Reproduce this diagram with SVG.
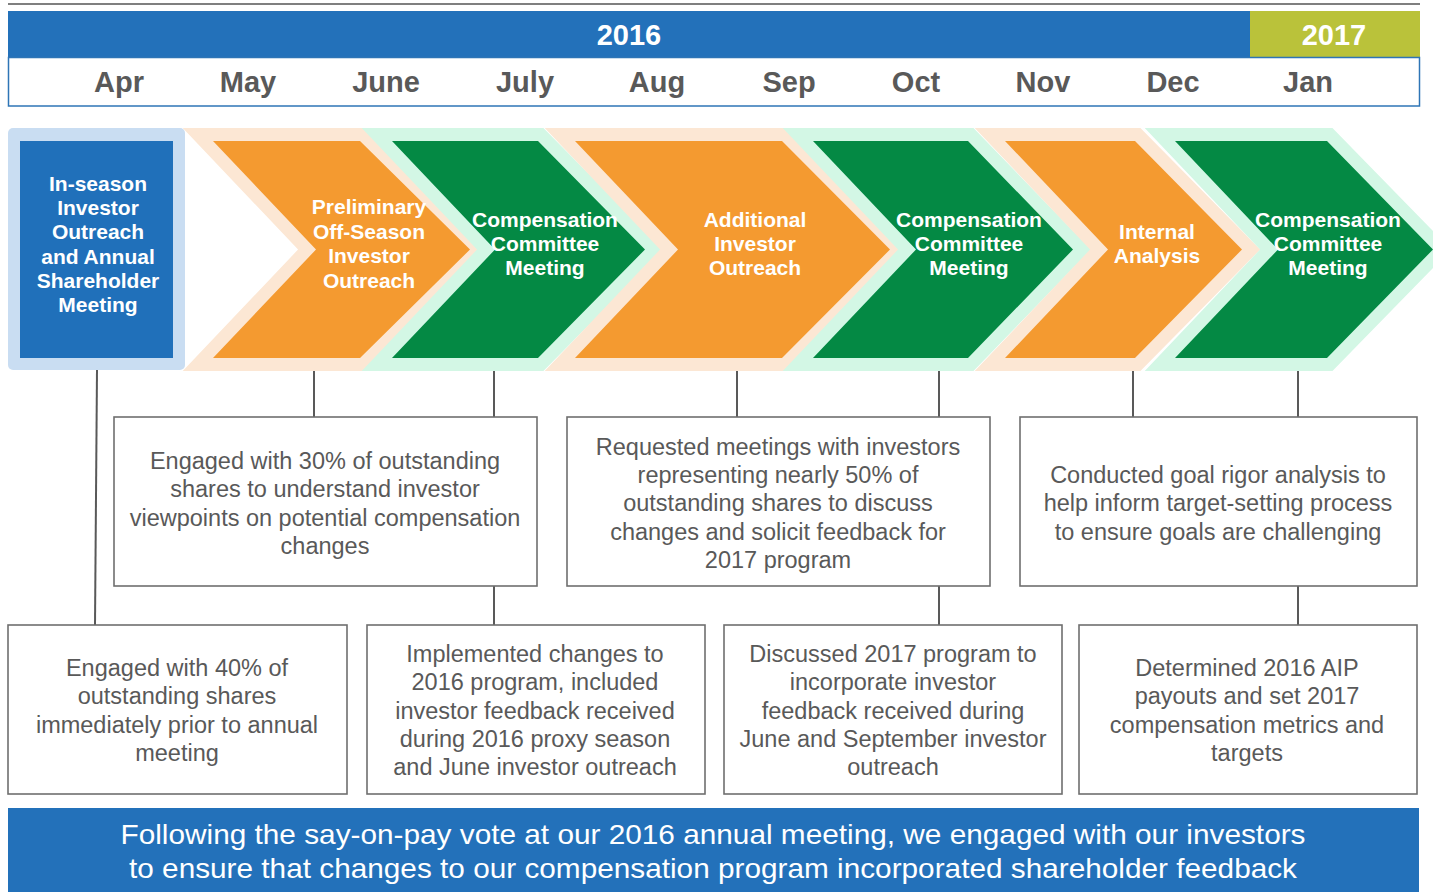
<svg xmlns="http://www.w3.org/2000/svg" width="1433" height="892" viewBox="0 0 1433 892">
<style>
.month{font-family:"Liberation Sans",Arial,sans-serif;font-weight:bold;font-size:29px;fill:#595959;text-anchor:middle}
.year{font-family:"Liberation Sans",Arial,sans-serif;font-weight:bold;font-size:29px;fill:#ffffff;text-anchor:middle}
.chev{font-family:"Liberation Sans",Arial,sans-serif;font-weight:bold;font-size:21px;fill:#ffffff;text-anchor:middle}
.box{fill:#ffffff;stroke:#6f6f6f;stroke-width:1.6}
.btxt{font-family:"Liberation Sans",Arial,sans-serif;font-size:23.5px;fill:#595959;text-anchor:middle}
.foot{font-family:"Liberation Sans",Arial,sans-serif;font-size:28px;fill:#ffffff;text-anchor:middle}
.org{fill:#F49A30;stroke:#FCE7D4;stroke-width:26;stroke-linejoin:miter;stroke-miterlimit:4;paint-order:stroke}
.grn{fill:#048944;stroke:#D3F7E5;stroke-width:26;stroke-linejoin:miter;stroke-miterlimit:4;paint-order:stroke}
.conn{stroke:#595959;stroke-width:2;fill:none}
</style>
<rect width="1433" height="892" fill="#ffffff"/>
<g id="header">
<line x1="8" y1="4" x2="1420" y2="4" stroke="#7f7f7f" stroke-width="2"/>
<rect x="8" y="11" width="1242" height="46" fill="#2371BA"/>
<rect x="1250" y="11" width="170" height="46" fill="#BAC23A"/>
<text class="year" x="629" y="45">2016</text>
<text class="year" x="1334" y="45">2017</text>
<rect x="8.5" y="57.5" width="1411" height="48.5" fill="#ffffff" stroke="#2E75B6" stroke-width="1.5"/>
<text class="month" x="119" y="92">Apr</text>
<text class="month" x="248" y="92">May</text>
<text class="month" x="386" y="92">June</text>
<text class="month" x="525" y="92">July</text>
<text class="month" x="657" y="92">Aug</text>
<text class="month" x="789" y="92">Sep</text>
<text class="month" x="916" y="92">Oct</text>
<text class="month" x="1043" y="92">Nov</text>
<text class="month" x="1173" y="92">Dec</text>
<text class="month" x="1308" y="92">Jan</text>
</g>
<g id="connectors">
<line class="conn" x1="97" y1="370" x2="95" y2="625"/>
<line class="conn" x1="314" y1="370" x2="314" y2="417"/>
<line class="conn" x1="494" y1="370" x2="494" y2="417"/>
<line class="conn" x1="494" y1="586" x2="494" y2="625"/>
<line class="conn" x1="737" y1="370" x2="737" y2="417"/>
<line class="conn" x1="939" y1="370" x2="939" y2="417"/>
<line class="conn" x1="939" y1="586" x2="939" y2="625"/>
<line class="conn" x1="1133" y1="370" x2="1133" y2="417"/>
<line class="conn" x1="1298" y1="370" x2="1298" y2="417"/>
<line class="conn" x1="1298" y1="586" x2="1298" y2="625"/>
</g>
<g id="step-preliminary">
<polygon class="org" points="213,141 360,141 470,249.5 360,358 213,358 316,249.5"/>
<text class="chev" x="369" y="214">Preliminary</text>
<text class="chev" x="369" y="239">Off-Season</text>
<text class="chev" x="369" y="263">Investor</text>
<text class="chev" x="369" y="288">Outreach</text>
</g>
<g id="step-inseason">
<rect x="8" y="128" width="177" height="242" rx="5" fill="#C9DDF2"/>
<rect x="20" y="141" width="153" height="217" fill="#2070BA"/>
<text class="chev" x="98" y="191">In-season</text>
<text class="chev" x="98" y="215">Investor</text>
<text class="chev" x="98" y="239">Outreach</text>
<text class="chev" x="98" y="264">and Annual</text>
<text class="chev" x="98" y="288">Shareholder</text>
<text class="chev" x="98" y="312">Meeting</text>
</g>
<g id="step-comp1">
<polygon class="grn" points="392,141 538,141 645,249.5 538,358 392,358 495,249.5"/>
<text class="chev" x="545" y="227">Compensation</text>
<text class="chev" x="545" y="251">Committee</text>
<text class="chev" x="545" y="275">Meeting</text>
</g>
<g id="step-additional">
<polygon class="org" points="575,141 782,141 890,249.5 782,358 575,358 678,249.5"/>
<text class="chev" x="755" y="227">Additional</text>
<text class="chev" x="755" y="251">Investor</text>
<text class="chev" x="755" y="275">Outreach</text>
</g>
<g id="step-comp2">
<polygon class="grn" points="813,141 968,141 1073,249.5 968,358 813,358 916,249.5"/>
<text class="chev" x="969" y="227">Compensation</text>
<text class="chev" x="969" y="251">Committee</text>
<text class="chev" x="969" y="275">Meeting</text>
</g>
<g id="step-internal">
<polygon class="org" points="1005,141 1135,141 1242,249.5 1135,358 1005,358 1108,249.5"/>
<text class="chev" x="1157" y="239">Internal</text>
<text class="chev" x="1157" y="263">Analysis</text>
</g>
<g id="step-comp3">
<polygon class="grn" points="1175,141 1327,141 1433,249.5 1327,358 1175,358 1278,249.5"/>
<text class="chev" x="1328" y="227">Compensation</text>
<text class="chev" x="1328" y="251">Committee</text>
<text class="chev" x="1328" y="275">Meeting</text>
</g>
<g id="note-30pct">
<rect class="box" x="114" y="417" width="423" height="169"/>
<text class="btxt" x="325" y="469">Engaged with 30% of outstanding</text>
<text class="btxt" x="325" y="497">shares to understand investor</text>
<text class="btxt" x="325" y="526">viewpoints on potential compensation</text>
<text class="btxt" x="325" y="554">changes</text>
</g>
<g id="note-50pct">
<rect class="box" x="567" y="417" width="423" height="169"/>
<text class="btxt" x="778" y="455">Requested meetings with investors</text>
<text class="btxt" x="778" y="483">representing nearly 50% of</text>
<text class="btxt" x="778" y="511">outstanding shares to discuss</text>
<text class="btxt" x="778" y="540">changes and solicit feedback for</text>
<text class="btxt" x="778" y="568">2017 program</text>
</g>
<g id="note-rigor">
<rect class="box" x="1020" y="417" width="397" height="169"/>
<text class="btxt" x="1218" y="483">Conducted goal rigor analysis to</text>
<text class="btxt" x="1218" y="511">help inform target-setting process</text>
<text class="btxt" x="1218" y="540">to ensure goals are challenging</text>
</g>
<g id="note-40pct">
<rect class="box" x="8" y="625" width="339" height="169"/>
<text class="btxt" x="177" y="676">Engaged with 40% of</text>
<text class="btxt" x="177" y="704">outstanding shares</text>
<text class="btxt" x="177" y="733">immediately prior to annual</text>
<text class="btxt" x="177" y="761">meeting</text>
</g>
<g id="note-implemented">
<rect class="box" x="367" y="625" width="338" height="169"/>
<text class="btxt" x="535" y="662">Implemented changes to</text>
<text class="btxt" x="535" y="690">2016 program, included</text>
<text class="btxt" x="535" y="719">investor feedback received</text>
<text class="btxt" x="535" y="747">during 2016 proxy season</text>
<text class="btxt" x="535" y="775">and June investor outreach</text>
</g>
<g id="note-discussed">
<rect class="box" x="724" y="625" width="338" height="169"/>
<text class="btxt" x="893" y="662">Discussed 2017 program to</text>
<text class="btxt" x="893" y="690">incorporate investor</text>
<text class="btxt" x="893" y="719">feedback received during</text>
<text class="btxt" x="893" y="747">June and September investor</text>
<text class="btxt" x="893" y="775">outreach</text>
</g>
<g id="note-aip">
<rect class="box" x="1079" y="625" width="338" height="169"/>
<text class="btxt" x="1247" y="676">Determined 2016 AIP</text>
<text class="btxt" x="1247" y="704">payouts and set 2017</text>
<text class="btxt" x="1247" y="733">compensation metrics and</text>
<text class="btxt" x="1247" y="761">targets</text>
</g>
<g id="footer">
<rect x="8" y="808" width="1411" height="84" fill="#2371BA"/>
<text class="foot" x="713" y="844" textLength="1185" lengthAdjust="spacingAndGlyphs">Following the say-on-pay vote at our 2016 annual meeting, we engaged with our investors</text>
<text class="foot" x="713" y="878" textLength="1168" lengthAdjust="spacingAndGlyphs">to ensure that changes to our compensation program incorporated shareholder feedback</text>
</g>
</svg>
